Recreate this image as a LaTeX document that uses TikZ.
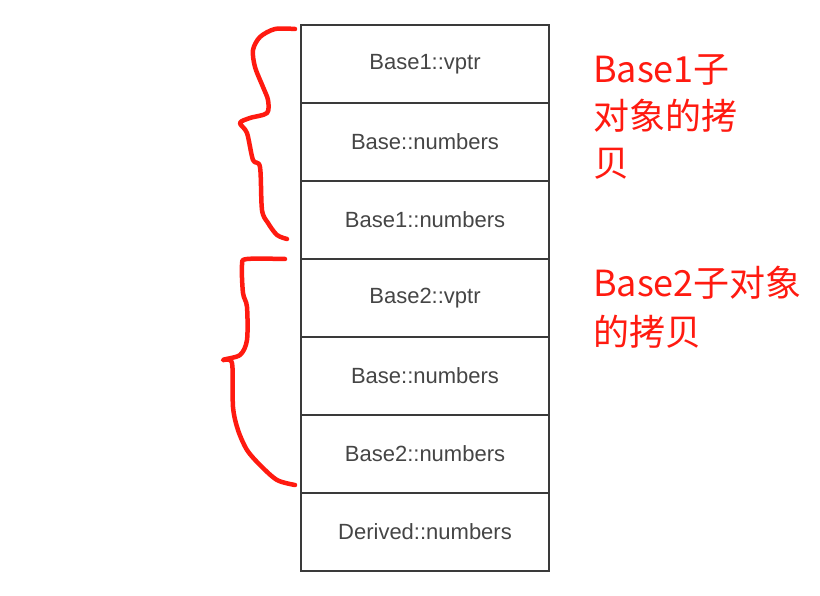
\documentclass[tikz,border=0pt]{standalone}
\usepackage{fontspec}
\setmainfont{Liberation Sans}
\newfontfamily\cjk{Noto Sans CJK SC}
\definecolor{boxline}{HTML}{3A3A3A}
\definecolor{boxtext}{HTML}{454545}
\definecolor{penred}{HTML}{FF1A10}
\begin{document}
\begin{tikzpicture}[x=1pt,y=-1pt,
  cell/.style={draw=boxline,line width=2pt,minimum width=248pt,minimum height=78pt,
    inner sep=0pt,anchor=north west,text=boxtext,font=\fontsize{22}{26}\selectfont},
  pen/.style={draw=penred,line width=4.5pt,line cap=round,line join=round},
  note/.style={anchor=base west,inner sep=0pt,text=penred,font=\cjk\fontsize{36}{47}\selectfont}]
\useasboundingbox (0,0) rectangle (820,596);
\node[cell] (c1) at (300,24) {Base1::vptr};
\node[cell] (c2) at (300,102) {Base::numbers};
\node[cell] (c3) at (300,180) {Base1::numbers};
\node[cell] (c4) at (300,258) {Base2::vptr};
\node[cell] (c5) at (300,336) {Base::numbers};
\node[cell] (c6) at (300,414) {Base2::numbers};
\node[cell] (c7) at (300,492) {Derived::numbers};
% braces
\draw[pen] plot[smooth,tension=0.5] coordinates {(295,29) (275,29) (260,37) (253,50) (255,67) (263,87) (268,100) (267,113) (250,118) (240,123) (247,133) (253,160) (260,167) (262,210) (268,223) (277,235) (287,239)};
\draw[pen] plot[smooth,tension=0.5] coordinates {(285,259) (247,259) (242,265) (243,293) (247,307) (247,340) (240,355) (223,360) (232,363) (233,407) (238,430) (247,450) (260,465) (277,480) (295,485)};
% notes
\node[note] (n1) at (593,83) {Base1子};
\node[note] (n2) at (593,130) {对象的拷};
\node[note] (n3) at (593,177) {贝};
\node[note] (n4) at (593,297) {Base2子对象};
\node[note] (n5) at (593,345) {的拷贝};
\end{tikzpicture}
\end{document}
